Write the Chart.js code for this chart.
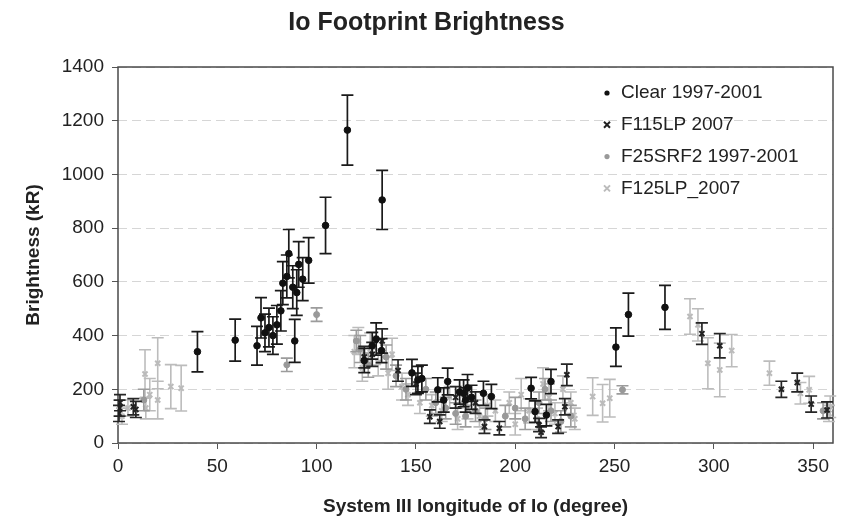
<!DOCTYPE html>
<html>
<head>
<meta charset="utf-8">
<title>Io Footprint Brightness</title>
<script src="https://cdn.jsdelivr.net/npm/chart.js@4.4.1/dist/chart.umd.min.js"></script>
<style>
  html, body { margin: 0; padding: 0; background: #fff; }
  #wrap { width: 847px; height: 522px; }
</style>
</head>
<body>
<div id="wrap"><canvas id="ioChart" width="847" height="522"></canvas></div>
<script>
'use strict';

var FONT = "'Liberation Sans', Arial, sans-serif";

// Clear filter, 1997-2001
var clearLon = [40, 59, 70, 72, 74, 76, 78, 80, 82, 83, 85, 86, 88, 89, 90, 91, 93, 96, 104.5, 115.5, 133,
    124, 128, 130, 132.7, 148, 151, 153, 161, 164, 166, 172, 174, 175, 176, 178, 184, 188, 208, 210, 215.7, 218,
    250.7, 257, 275.4];
var clearBr = [340, 383, 362, 466, 410, 430, 400, 440, 492, 595, 620, 705, 580, 380, 560, 665, 610, 680, 810, 1165, 905,
    307, 362, 387, 344, 261, 235, 240, 198, 160, 229, 190, 185, 160, 205, 170, 185, 173, 204, 117, 104, 229,
    357, 478, 505];
var clearErr = [75, 78, 72, 75, 70, 72, 70, 72, 75, 80, 80, 90, 80, 80, 85, 85, 80, 85, 105, 130, 110,
    45, 50, 60, 45, 50, 50, 50, 45, 45, 50, 45, 50, 45, 50, 45, 45, 45, 40, 40, 40, 45,
    72, 80, 82];

// F115LP, 2007
var f115Lon = [0.5, 0.8, 1, 7.7, 9, 124, 128, 133, 141, 150, 157, 162, 170, 180, 184.5, 192, 212, 213, 221.6, 225, 226,
    294, 303, 334, 342, 349, 357];
var f115Br = [110, 130, 150, 135, 125, 320, 330, 380, 270, 220, 98, 80, 170, 150, 61, 55, 67, 40, 61, 135, 254,
    407, 362, 200, 225, 145, 123];
var f115Err = [30, 30, 30, 30, 30, 40, 45, 45, 40, 40, 25, 25, 40, 40, 25, 25, 25, 20, 25, 30, 40,
    40, 45, 30, 35, 30, 30];

// F25SRF2, 1997-2001
var f25Lon = [13, 85, 100, 120, 122, 126, 135, 140, 145, 155, 160, 165, 170, 175, 180, 185, 195, 200, 205, 212, 215,
    218, 223, 228, 254, 355];
var f25Br = [160, 291, 478, 380, 350, 290, 320, 250, 200, 200, 150, 130, 110, 100, 120, 90, 100, 130, 90, 150, 200,
    120, 80, 100, 198, 120];
var f25Err = [40, 25, 25, 40, 50, 45, 45, 40, 40, 40, 40, 40, 40, 40, 40, 40, 40, 40, 40, 40, 40,
    40, 40, 40, 15, 30];

// F125LP, 2007
var f125Lon = [2, 5, 13.6, 14, 16, 20, 20, 26.6, 31.8,
    119, 121, 123, 127, 131, 136, 138, 143, 146, 152, 158, 163, 167, 171, 176, 182, 186, 190, 197, 200, 203, 207,
    211, 214, 217, 220, 224, 228, 230,
    239, 244, 247.6, 288, 292, 297, 303, 309, 328, 343.6, 348, 358.6, 358];
var f125Br = [100, 130, 257, 130, 180, 297, 160, 210, 204,
    340, 380, 280, 350, 300, 260, 330, 210, 180, 150, 140, 120, 170, 90, 130, 100, 140, 120, 150, 70, 180, 120,
    90, 220, 170, 110, 200, 150, 90,
    173, 148, 167, 471, 440, 297, 272, 344, 260, 185, 198, 135, 110];
var f125Err = [30, 30, 90, 40, 60, 95, 70, 82, 85,
    60, 50, 50, 60, 50, 60, 60, 50, 40, 40, 40, 40, 40, 40, 40, 40, 40, 40, 40, 40, 60, 45,
    40, 60, 50, 40, 50, 40, 40,
    70, 70, 70, 66, 60, 95, 100, 60, 45, 40, 50, 40, 30];

var xTicks = [0, 50, 100, 150, 200, 250, 300, 350];
var yTicks = [0, 200, 400, 600, 800, 1000, 1200, 1400];

function toPoints(lon, br) {
    return lon.map(function (x, i) { return { x: x, y: br[i] }; });
}

// vertical error bars with caps, drawn just before each dataset's markers
var errorBars = {
    id: 'errorBars',
    beforeDatasetDraw: function (chart, args) {
        var ds = chart.data.datasets[args.index];
        if (!ds.errors) return;
        var xs = chart.scales.x, ys = chart.scales.y, ctx = chart.ctx;
        var area = chart.chartArea;
        ctx.save();
        ctx.beginPath();
        ctx.rect(area.left - 8, area.top, area.right - area.left + 16, area.bottom - area.top);
        ctx.clip();
        ctx.strokeStyle = ds.barColor;
        ctx.lineWidth = ds.barWidth;
        ctx.beginPath();
        ds.data.forEach(function (p, i) {
            var px = xs.getPixelForValue(p.x);
            var top = ys.getPixelForValue(p.y + ds.errors[i]);
            var bot = ys.getPixelForValue(p.y - ds.errors[i]);
            ctx.moveTo(px, top); ctx.lineTo(px, bot);
            ctx.moveTo(px - 6, top); ctx.lineTo(px + 6, top);
            ctx.moveTo(px - 6, bot); ctx.lineTo(px + 6, bot);
        });
        ctx.stroke();
        ctx.restore();
    }
};

// plot frame + legend inside the plot area
var frameAndLegend = {
    id: 'frameAndLegend',
    beforeDatasetsDraw: function (chart) {
        var a = chart.chartArea, ctx = chart.ctx;
        ctx.save();
        ctx.strokeStyle = '#4a4a4a';
        ctx.lineWidth = 1.5;
        ctx.strokeRect(a.left, a.top, a.right - a.left, a.bottom - a.top);
        ctx.restore();
    },
    afterDraw: function (chart) {
        var ctx = chart.ctx;
        var x0 = 607, y0 = 93, step = 31.8;
        ctx.save();
        ctx.font = '19px ' + FONT;
        ctx.textBaseline = 'middle';
        chart.data.datasets.forEach(function (ds, i) {
            var y = y0 + i * step;
            ctx.fillStyle = ds.backgroundColor;
            ctx.strokeStyle = ds.borderColor;
            ctx.lineWidth = ds.borderWidth;
            ctx.beginPath();
            if (ds.pointStyle === 'circle') {
                ctx.arc(x0, y, 2.6, 0, Math.PI * 2);
                ctx.fill();
            } else {
                ctx.moveTo(x0 - 3, y - 3); ctx.lineTo(x0 + 3, y + 3);
                ctx.moveTo(x0 - 3, y + 3); ctx.lineTo(x0 + 3, y - 3);
                ctx.stroke();
            }
            ctx.fillStyle = '#222';
            ctx.fillText(ds.label, x0 + 14, y);
        });
        ctx.restore();
    }
};

var datasets = [
    {
        label: 'Clear 1997-2001',
        data: toPoints(clearLon, clearBr),
        errors: clearErr,
        barColor: '#1a1a1a', barWidth: 1.7,
        pointStyle: 'circle', pointRadius: 3.3,
        backgroundColor: '#111', borderColor: '#111', borderWidth: 1
    },
    {
        label: 'F115LP 2007',
        data: toPoints(f115Lon, f115Br),
        errors: f115Err,
        barColor: '#262626', barWidth: 1.7,
        pointStyle: 'crossRot', pointRadius: 3.6,
        backgroundColor: '#222', borderColor: '#222', borderWidth: 2
    },
    {
        label: 'F25SRF2 1997-2001',
        data: toPoints(f25Lon, f25Br),
        errors: f25Err,
        barColor: '#9c9c9c', barWidth: 1.6,
        pointStyle: 'circle', pointRadius: 3,
        backgroundColor: '#999', borderColor: '#999', borderWidth: 1
    },
    {
        label: 'F125LP_2007',
        data: toPoints(f125Lon, f125Br),
        errors: f125Err,
        barColor: '#bcbcbc', barWidth: 1.6,
        pointStyle: 'crossRot', pointRadius: 3.6,
        backgroundColor: '#bbb', borderColor: '#bbb', borderWidth: 2
    }
];

function plainTick(v) { return String(v); }

new Chart(document.getElementById('ioChart'), {
    type: 'scatter',
    data: { datasets: datasets },
    options: {
        responsive: false,
        animation: false,
        devicePixelRatio: 1,
        layout: { padding: { left: 20, right: 14, top: 0, bottom: 0 } },
        plugins: {
            legend: { display: false },
            tooltip: { enabled: false },
            title: {
                display: true,
                text: 'Io Footprint Brightness',
                color: '#222',
                font: { family: FONT, size: 25, weight: 'bold' },
                padding: { top: 8, bottom: 29 }
            }
        },
        scales: {
            x: {
                type: 'linear',
                min: 0, max: 360,
                afterBuildTicks: function (s) { s.ticks = xTicks.map(function (v) { return { value: v }; }); },
                afterFit: function (s) { s.height = 79; },
                ticks: { color: '#222', font: { family: FONT, size: 19 }, padding: 6, callback: plainTick },
                grid: { drawOnChartArea: false, color: '#555', tickLength: 6 },
                border: { display: false },
                title: {
                    display: true,
                    text: 'System III longitude of Io (degree)',
                    color: '#222',
                    font: { family: FONT, size: 19, weight: 'bold' },
                    padding: { top: 8 }
                }
            },
            y: {
                min: 0, max: 1400,
                afterBuildTicks: function (s) { s.ticks = yTicks.map(function (v) { return { value: v }; }); },
                afterFit: function (s) { s.width = 98; },
                ticks: { color: '#222', font: { family: FONT, size: 19 }, padding: 8, callback: plainTick },
                grid: { color: '#d6d6d6', tickColor: '#555', tickLength: 6, lineWidth: 1 },
                border: { display: false, dash: [9, 5] },
                title: {
                    display: true,
                    text: 'Brightness (kR)',
                    color: '#222',
                    font: { family: FONT, size: 19, weight: 'bold' },
                    padding: { top: 2, bottom: 2 }
                }
            }
        }
    },
    plugins: [errorBars, frameAndLegend]
});
</script>
</body>
</html>
